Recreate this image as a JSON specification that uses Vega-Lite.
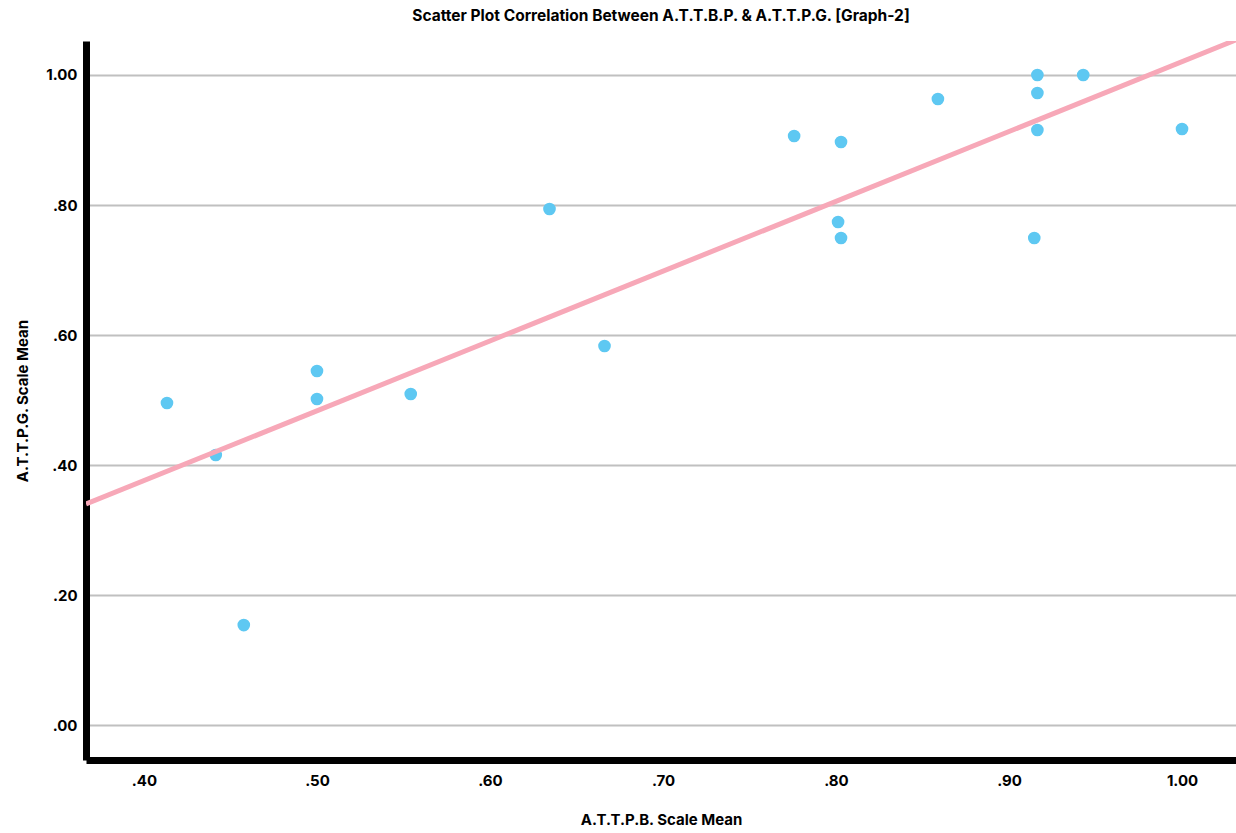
{
  "$schema": "https://vega.github.io/schema/vega-lite/v6.json",
  "autosize": {"type": "none"},
  "padding": {"left": 86, "top": 41, "right": 0, "bottom": 73},
  "width": 1150,
  "height": 719,
  "background": "white",
  "config": {
    "view": {"stroke": null},
    "font": "Inter",
    "axis": {"labelFont": "Inter", "titleFont": "Inter", "labelFontWeight": "bold", "titleFontWeight": "bold", "labelColor": "#000", "titleColor": "#000", "labelFontSize": 15, "titleFontSize": 15}
  },
  "title": {"text": "Scatter Plot Correlation Between A.T.T.B.P. & A.T.T.P.G. [Graph-2]", "font": "Inter", "fontSize": 15.5, "fontWeight": "bold", "color": "#000", "anchor": "middle", "offset": 17},
  "datasets": {
    "pts": [
      {"attbp": 0.4133, "attpg": 0.4954},
      {"attbp": 0.4415, "attpg": 0.4154},
      {"attbp": 0.4577, "attpg": 0.1538},
      {"attbp": 0.5000, "attpg": 0.5446},
      {"attbp": 0.5000, "attpg": 0.5015},
      {"attbp": 0.5542, "attpg": 0.5092},
      {"attbp": 0.6344, "attpg": 0.7938},
      {"attbp": 0.6662, "attpg": 0.5831},
      {"attbp": 0.7758, "attpg": 0.9062},
      {"attbp": 0.8029, "attpg": 0.8969},
      {"attbp": 0.8012, "attpg": 0.7738},
      {"attbp": 0.8029, "attpg": 0.7492},
      {"attbp": 0.8589, "attpg": 0.9631},
      {"attbp": 0.9164, "attpg": 1.0000},
      {"attbp": 0.9164, "attpg": 0.9723},
      {"attbp": 0.9164, "attpg": 0.9154},
      {"attbp": 0.9146, "attpg": 0.7492},
      {"attbp": 0.9429, "attpg": 1.0000},
      {"attbp": 1.0000, "attpg": 0.9169}
    ],
    "fit": [
      {"attbp": 0.3665, "attpg": 0.340},
      {"attbp": 1.0312, "attpg": 1.054}
    ]
  },
  "layer": [
    {
      "data": {"name": "pts"},
      "mark": {"type": "point", "filled": true, "shape": "circle", "size": 160, "color": "#5ec8f2", "opacity": 1, "clip": true},
      "encoding": {
        "x": {"field": "attbp", "type": "quantitative", "scale": {"domain": [0.3665, 1.0312], "nice": false, "zero": false},
          "axis": {"title": "A.T.T.P.B. Scale Mean", "values": [0.4, 0.5, 0.6, 0.7, 0.8, 0.9, 1.0], "labelExpr": "replace(format(datum.value, '.2f'), /^0/, '')", "grid": false, "ticks": false, "domainColor": "#000", "domainWidth": 7, "labelPadding": 13, "titlePadding": 24}},
        "y": {"field": "attpg", "type": "quantitative", "scale": {"domain": [-0.0538, 1.0523], "nice": false, "zero": false},
          "axis": {"title": "A.T.T.P.G. Scale Mean", "values": [0, 0.2, 0.4, 0.6, 0.8, 1.0], "labelExpr": "replace(format(datum.value, '.2f'), /^0/, '')", "grid": true, "gridColor": "#c0c0c0", "gridWidth": 2, "gridOpacity": 1, "ticks": false, "domainColor": "#000", "domainWidth": 7, "labelPadding": 9, "titlePadding": 15}}
      }
    },
    {
      "data": {"name": "fit"},
      "mark": {"type": "line", "color": "#f7a8b8", "strokeWidth": 5, "clip": true},
      "encoding": {
        "x": {"field": "attbp", "type": "quantitative"},
        "y": {"field": "attpg", "type": "quantitative"}
      }
    }
  ]
}
